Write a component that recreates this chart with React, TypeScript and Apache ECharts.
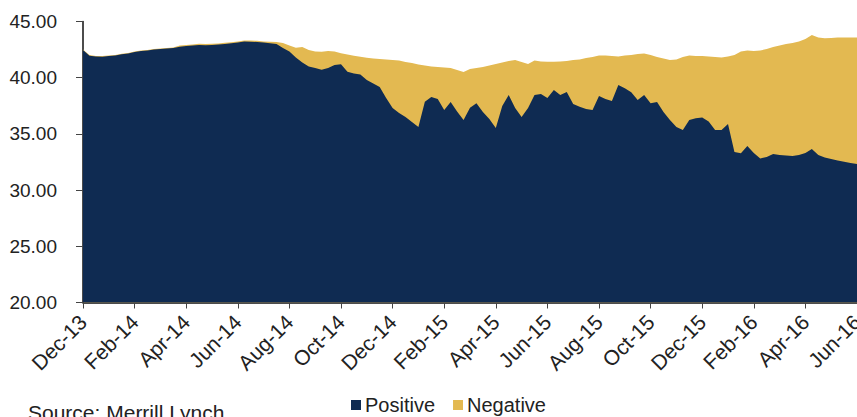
import React, { useEffect, useRef } from "react";
import * as echarts from "echarts";

// x positions are month offsets from Dec-13, sampled every quarter month
const tickLabels = [
  "Dec-13", "Feb-14", "Apr-14", "Jun-14", "Aug-14", "Oct-14", "Dec-14", "Feb-15",
  "Apr-15", "Jun-15", "Aug-15", "Oct-15", "Dec-15", "Feb-16", "Apr-16", "Jun-16",
];

const positive = [
  42.46, 41.96, 41.89, 41.87, 41.93, 41.98, 42.08, 42.15, 42.29, 42.38, 42.42, 42.51,
  42.55, 42.6, 42.64, 42.76, 42.82, 42.86, 42.91, 42.89, 42.91, 42.95, 43.0, 43.06,
  43.13, 43.22, 43.2, 43.18, 43.13, 43.06, 43.0, 42.64, 42.33, 41.8, 41.35, 41.0,
  40.86, 40.7, 40.86, 41.13, 41.19, 40.53, 40.37, 40.28, 39.8, 39.48, 39.17, 38.19,
  37.3, 36.86, 36.5, 36.06, 35.61, 37.86, 38.28, 38.11, 37.13, 37.84, 37.0, 36.24,
  37.33, 37.72, 36.95, 36.33, 35.53, 37.48, 38.46, 37.3, 36.5, 37.3, 38.46, 38.55,
  38.19, 38.91, 38.46, 38.73, 37.66, 37.42, 37.21, 37.13, 38.37, 38.11, 37.93, 39.35,
  39.06, 38.7, 38.02, 38.46, 37.72, 37.84, 36.95, 36.24, 35.61, 35.35, 36.24, 36.39,
  36.46, 36.1, 35.35, 35.35, 35.88, 33.39, 33.27, 33.92, 33.3, 32.81, 32.95, 33.21,
  33.12, 33.08, 33.03, 33.12, 33.3, 33.66, 33.12, 32.9, 32.77, 32.64, 32.53, 32.41,
  32.32,
];

const negative = [
  0.05, 0.05, 0.05, 0.05, 0.05, 0.05, 0.05, 0.05, 0.05, 0.05, 0.05, 0.05,
  0.05, 0.05, 0.05, 0.1, 0.1, 0.1, 0.1, 0.1, 0.1, 0.1, 0.1, 0.1,
  0.1, 0.1, 0.1, 0.1, 0.1, 0.14, 0.18, 0.45, 0.53, 0.87, 1.38, 1.46,
  1.47, 1.61, 1.52, 1.2, 0.99, 1.53, 1.58, 1.59, 1.98, 2.23, 2.49, 3.43,
  4.27, 4.67, 4.9, 5.25, 5.56, 3.22, 2.71, 2.84, 3.78, 3.02, 3.69, 4.27,
  3.45, 3.14, 4.0, 4.75, 5.69, 3.87, 3.03, 4.27, 4.9, 3.92, 3.07, 2.89,
  3.23, 2.51, 2.98, 2.76, 3.91, 4.2, 4.54, 4.71, 3.61, 3.87, 4.0, 2.54,
  2.92, 3.32, 4.09, 3.69, 4.3, 4.0, 4.76, 5.33, 6.01, 6.49, 5.74, 5.54,
  5.47, 5.79, 6.49, 6.45, 6.01, 8.63, 9.06, 8.5, 9.08, 9.61, 9.6, 9.52,
  9.74, 9.92, 10.06, 10.1, 10.14, 10.14, 10.46, 10.61, 10.76, 10.94, 11.05, 11.17,
  11.26,
];

const STEP = 0.25; // months between samples

const NAVY = "#0f2b52";
const GOLD = "#e3b951";
const FONT = "Liberation Sans, Arial, sans-serif";

export default function App() {
  const ref = useRef<HTMLDivElement>(null);

  useEffect(() => {
    if (!ref.current) return;
    const chart = echarts.init(ref.current, undefined, { renderer: "svg" });
    const posData = positive.map((v, i) => [i * STEP, v]);
    // Negative is stacked on top of Positive: its upper edge is positive + negative
    const negTopData = negative.map((v, i) => [i * STEP, +(positive[i] + v).toFixed(2)]);
    chart.setOption({
      animation: false,
      backgroundColor: "#ffffff",
      textStyle: { fontFamily: FONT },
      grid: {
        left: 83,
        right: 0,
        top: 21.5,
        bottom: 114.5,
        containLabel: false,
        outerBoundsMode: "none",
      },
      legend: {
        left: 351,
        top: 395,
        padding: 0,
        itemWidth: 10,
        itemHeight: 10,
        itemGap: 18,
        icon: "rect",
        textStyle: { fontSize: 20, color: "#222", fontFamily: FONT, padding: [0, 0, 0, -1] },
        data: ["Positive", "Negative"],
      },
      graphic: [
        {
          type: "text",
          left: 28,
          top: 402,
          style: { text: "Source: Merrill Lynch", font: `21px ${FONT}`, fill: "#222" },
        },
      ],
      xAxis: {
        type: "value",
        min: 0,
        max: 30,
        interval: 2,
        axisLine: { show: true, lineStyle: { color: "#111", width: 1.5 } },
        axisTick: { show: true, length: 6, lineStyle: { color: "#444" } },
        splitLine: { show: false },
        axisLabel: {
          rotate: 45,
          margin: 16,
          fontSize: 21,
          color: "#222",
          fontFamily: FONT,
          showMaxLabel: true,
          showMinLabel: true,
          hideOverlap: false,
          formatter: (v: number) => tickLabels[Math.round(v / 2)] ?? "",
        },
      },
      yAxis: {
        type: "value",
        min: 20,
        max: 45,
        interval: 5,
        axisLine: { show: true, lineStyle: { color: "#111", width: 1.5 } },
        axisTick: { show: true, length: 7, lineStyle: { color: "#444" } },
        splitLine: { show: false },
        axisLabel: {
          margin: 26,
          fontSize: 19,
          color: "#222",
          fontFamily: FONT,
          formatter: (v: number) => v.toFixed(2),
        },
      },
      series: [
        {
          name: "Negative",
          type: "line",
          data: negTopData,
          showSymbol: false,
          symbol: "none",
          lineStyle: { width: 0 },
          itemStyle: { color: GOLD },
          areaStyle: { color: GOLD, opacity: 1, origin: "start" },
          z: 1,
        },
        {
          name: "Positive",
          type: "line",
          data: posData,
          showSymbol: false,
          symbol: "none",
          lineStyle: { width: 0 },
          itemStyle: { color: NAVY },
          areaStyle: { color: NAVY, opacity: 1, origin: "start" },
          z: 2,
        },
      ],
    });
    return () => chart.dispose();
  }, []);

  return (
    <div
      ref={ref}
      style={{ position: "absolute", left: 0, top: 0, width: 857, height: 417 }}
    />
  );
}
